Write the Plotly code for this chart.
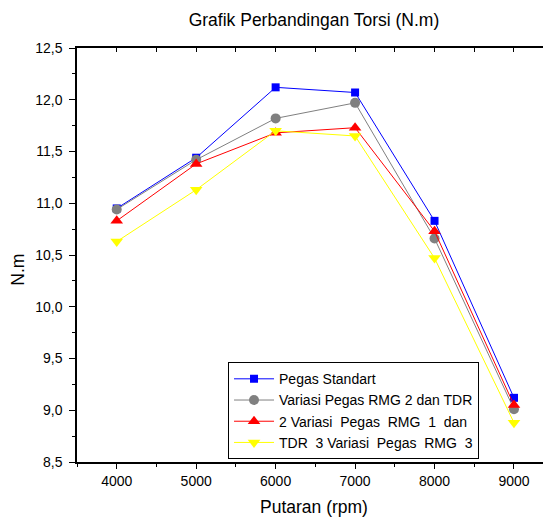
import plotly.graph_objects as go

rpm = [4000, 5000, 6000, 7000, 8000, 9000]
pegas_standart = [10.95, 11.44, 12.12, 12.07, 10.83, 9.12]
variasi_rmg2_tdr2 = [10.94, 11.42, 11.82, 11.97, 10.66, 9.01]
variasi_rmg1_tdr3 = [10.83, 11.38, 11.68, 11.73, 10.73, 9.05]
variasi_rmg3 = [10.63, 11.13, 11.70, 11.65, 10.47, 8.88]

x_ticks = [4000, 5000, 6000, 7000, 8000, 9000]
x_ticklabels = ["4000", "5000", "6000", "7000", "8000", "9000"]
y_ticks = [8.5, 9.0, 9.5, 10.0, 10.5, 11.0, 11.5, 12.0, 12.5]
y_ticklabels = ["8,5", "9,0", "9,5", "10,0", "10,5", "11,0", "11,5", "12,0", "12,5"]

names = ["Pegas Standart",
         "Variasi Pegas RMG 2 dan TDR",
         "2 Variasi\u00a0 Pegas\u00a0 RMG\u00a0 1\u00a0 dan",
         "TDR\u00a0 3 Variasi\u00a0 Pegas\u00a0 RMG\u00a0 3"]
colors = ["#0000FF", "#808080", "#FF0000", "#FFFF00"]
symbols = ["square", "circle", "triangle-up", "triangle-down"]
sizes = [8, 10, 11, 11]
series = [pegas_standart, variasi_rmg2_tdr2, variasi_rmg1_tdr3, variasi_rmg3]

fig = go.Figure()
for n, c, s, sz, ys in zip(names, colors, symbols, sizes, series):
    fig.add_trace(go.Scatter(x=rpm, y=ys, name=n, mode="lines+markers",
                             line=dict(color=c, width=1),
                             marker=dict(color=c, symbol=s, size=sz, line=dict(width=0))))

font = "Liberation Sans, Arial, sans-serif"
xr = [3500, 9466]
yr = [8.5, 12.5]
fig.update_layout(
    width=543, height=510,
    margin=dict(l=69, r=0, t=40, b=56, autoexpand=False),
    paper_bgcolor="white", plot_bgcolor="white",
    font=dict(family=font, size=14, color="black"),
    title=dict(text="Grafik Perbandingan Torsi (N.m)", x=0.5635, xanchor="center",
               y=0.976, yanchor="middle", font=dict(size=17.5, color="black")),
    xaxis=dict(range=xr, tickmode="array", tickvals=x_ticks, ticktext=x_ticklabels,
               ticks="outside", ticklen=5, tickwidth=1, tickcolor="black",
               minor=dict(tickvals=[3500, 4500, 5500, 6500, 7500, 8500, 9500], ticks="outside", ticklen=3, tickcolor="black"),
               showline=True, linecolor="black", linewidth=1.5, showgrid=False, zeroline=False,
               automargin=False, tickfont=dict(size=14)),
    yaxis=dict(range=yr, tickmode="array", tickvals=y_ticks, ticktext=y_ticklabels,
               ticks="outside", ticklen=6, tickwidth=1, tickcolor="black",
               minor=dict(tickvals=[8.75, 9.25, 9.75, 10.25, 10.75, 11.25, 11.75, 12.25], ticks="outside", ticklen=3, tickcolor="black"),
               showline=True, linecolor="black", linewidth=1.5, showgrid=False, zeroline=False,
               automargin=False, ticklabelstandoff=4, tickfont=dict(size=14)),
    xaxis2=dict(range=xr, overlaying="x", side="top", anchor="y",
                tickmode="array", tickvals=[3500, 4000, 4500, 5000, 5500, 6000, 6500, 7000, 7500, 8000, 8500, 9000, 9500],
                ticks="inside", ticklen=4, tickcolor="black", showticklabels=False, automargin=False,
                showline=True, linecolor="black", linewidth=1.5, showgrid=False, zeroline=False),
    yaxis2=dict(range=yr, overlaying="y", side="right", anchor="x",
                tickmode="array", tickvals=y_ticks,
                ticks="inside", ticklen=5, tickcolor="black", showticklabels=False, automargin=False,
                showline=False, showgrid=False, zeroline=False),
    legend=dict(x=0.3186, y=0.241, xanchor="left", yanchor="top",
                bordercolor="black", borderwidth=1, bgcolor="white",
                font=dict(size=14), itemwidth=40, tracegroupgap=0),
    showlegend=True,
    annotations=[
        dict(text="Putaran (rpm)", xref="paper", yref="paper", x=0.5, y=-0.1096,
             xanchor="center", yanchor="middle", showarrow=False, font=dict(size=17.5)),
        dict(text="N.m", xref="paper", yref="paper", x=-0.125, y=0.4638,
             xanchor="center", yanchor="middle", showarrow=False, textangle=-90, font=dict(size=17.5)),
    ],
)
fig.add_trace(go.Scatter(x=[None], y=[None], xaxis="x2", yaxis="y2", showlegend=False, hoverinfo="skip"))
fig.write_html("out.html")
